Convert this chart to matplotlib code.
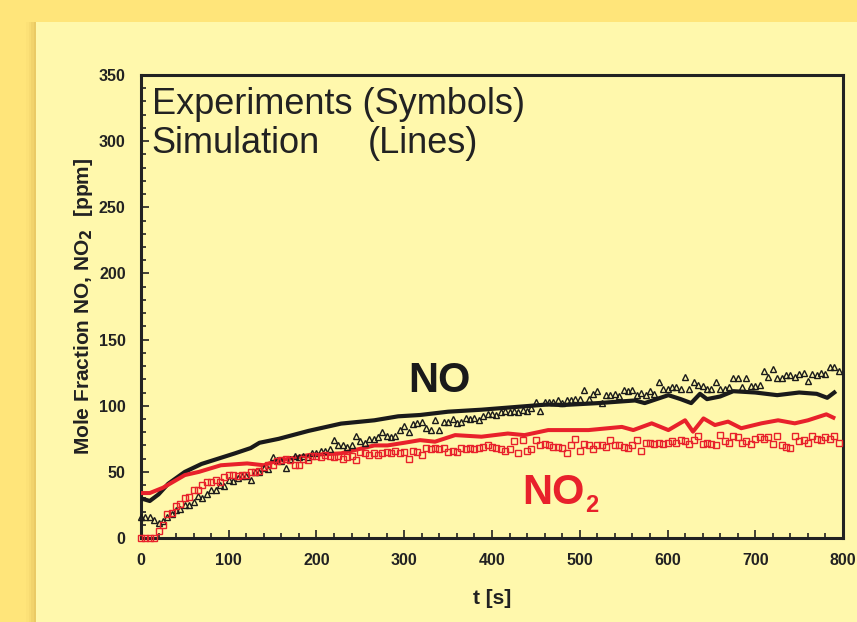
# NO / NO2 mole fraction vs time, experiments (symbols) and simulation (lines)

import numpy as np
import matplotlib.pyplot as plt
from matplotlib.patches import Rectangle
from matplotlib.ticker import MultipleLocator

plt.rcParams['font.family'] = ['Liberation Sans', 'DejaVu Sans']

# experiment time grid [s]
t_exp = np.arange(0, 800, 5)

# NO experiment (triangles) [ppm]
no_exp = [16, 16, 16, 14, 11.6, 13, 16, 18, 21, 22, 25, 25, 27, 32, 30, 33, 36, 36, 40, 39,
          44, 43, 45, 47, 47, 44, 50, 50, 53, 52, 61, 59, 58, 53, 60, 62, 61, 62, 61, 64,
          64, 66, 66, 67, 74, 70, 70, 69, 70, 77, 73, 72, 75, 75, 76, 80, 77, 76, 77, 82,
          85, 80, 86, 87, 88, 83, 82, 89, 82, 88, 88, 90, 87, 88, 91, 90, 91, 89, 92, 94,
          94, 93, 95, 96, 95, 96, 95, 97, 96, 98, 103, 96, 103, 103, 103, 104, 102, 104, 104, 105,
          105, 112, 105, 109, 111, 102, 108, 108, 109, 107, 112, 111, 112, 108, 110, 108, 111, 109, 118, 113,
          113, 114, 114, 113, 122, 113, 118, 116, 115, 113, 113, 118, 113, 113, 114, 121, 121, 114, 121, 115,
          115, 116, 126, 122, 128, 121, 121, 123, 123, 122, 124, 125, 119, 124, 123, 125, 124, 129, 129, 126]

# NO2 experiment (squares) [ppm]
no2_exp = [0, 0, 0, 0, 5, 10, 18, 19, 24, 26, 30, 31, 36, 36, 40, 42, 42, 44, 42, 46,
           48, 48, 47, 48, 48, 50, 50, 51, 54, 55, 55, 58, 59, 60, 59, 55, 55, 60, 59, 62,
           62, 61, 63, 62, 61, 62, 60, 61, 62, 59, 65, 64, 63, 64, 63, 64, 65, 64, 66, 64,
           65, 60, 66, 65, 63, 68, 67, 68, 67, 68, 65, 66, 65, 68, 67, 68, 67, 68, 69, 70,
           69, 68, 67, 66, 67, 73, 64, 74, 66, 67, 74, 70, 71, 70, 69, 69, 68, 64, 70, 75,
           66, 71, 70, 67, 70, 70, 69, 74, 70, 70, 69, 68, 70, 74, 66, 72, 72, 71, 72, 71,
           72, 73, 72, 74, 73, 71, 74, 77, 71, 72, 71, 70, 78, 73, 72, 77, 76, 72, 73, 71,
           75, 76, 75, 76, 71, 77, 70, 69, 68, 77, 73, 74, 72, 77, 75, 74, 76, 75, 77, 72]

# NO simulation (black line)
t_no_sim = [0, 10, 20, 31, 50, 69, 88, 107, 125, 135, 157, 191, 228, 251, 266, 293, 318, 350, 388,
            426, 464, 480, 521, 563, 574, 601, 615, 627, 637, 645, 660, 675, 700, 725, 750, 770, 782, 790]
no_sim = [30, 28, 33, 41, 50, 56, 60, 64, 68, 72, 75, 81, 86.5, 88, 89, 92, 93, 95.5, 97,
          99, 101, 100.5, 102, 104, 102, 108, 105, 102, 109, 105, 107, 111, 110, 108, 110, 109, 106, 110]

# NO2 simulation (red line)
t_no2_sim = [0, 10, 25, 50, 66, 91, 121, 140, 153, 191, 228, 266, 281, 300, 318, 335, 358, 388, 418,
             437, 464, 510, 548, 561, 582, 601, 620, 629, 641, 654, 669, 684, 707, 726, 745, 760, 781, 789]
no2_sim = [34, 34, 38, 47.6, 50, 55, 56.4, 55, 58, 62.7, 64, 70, 70, 72, 74, 72.8, 77.8, 76.6, 79,
           77.8, 81.6, 81.6, 84, 81.6, 86.7, 81.6, 89, 80.4, 90.4, 85.4, 88, 83, 86.7, 89, 86.7, 89, 93.5, 91]

red = '#E8212B'
panel = '#FFF8AC'
ink = '#222222'

fig = plt.figure(figsize=(8.57, 6.22), dpi=100)
fig.patch.set_facecolor('#FFE57A')

# shadow and light panel behind the chart
for i, a in enumerate([0.05, 0.08, 0.12, 0.16]):
    fig.patches.append(Rectangle((26 / 857 + i * 2.5 / 857, 0), 1, 600 / 622,
                                 transform=fig.transFigure, color='#C8A040', alpha=a, lw=0,
                                 zorder=-3))
fig.patches.append(Rectangle((36 / 857, 0), 1, 600 / 622, transform=fig.transFigure,
                             color=panel, lw=0, zorder=-2))

ax = fig.add_axes([0.1645, 0.135, 0.8192, 0.7444])
ax.set_facecolor(panel)

ax.plot(t_no_sim, no_sim, color='#1a1a1a', linewidth=3.0, zorder=3)
ax.plot(t_no2_sim, no2_sim, color=red, linewidth=2.9, zorder=3)
ax.plot(t_exp, no_exp, linestyle='none', marker='^', markersize=5, markerfacecolor='none',
        markeredgecolor='#1a1a1a', markeredgewidth=1.0, clip_on=False, zorder=4)
ax.plot(t_exp, no2_exp, linestyle='none', marker='s', markersize=4.5, markerfacecolor='none',
        markeredgecolor=red, markeredgewidth=1.0, clip_on=False, zorder=4)

ax.set_xlim(0, 800)
ax.set_ylim(0, 350)
ax.xaxis.set_major_locator(MultipleLocator(100))
ax.xaxis.set_minor_locator(MultipleLocator(20))
ax.yaxis.set_major_locator(MultipleLocator(50))
ax.yaxis.set_minor_locator(MultipleLocator(10))
ax.tick_params(which='both', direction='in', color=ink, width=1.2)
ax.tick_params(which='major', length=6, labelsize=11.5, pad=11)
ax.tick_params(which='minor', length=3.5)
for lab in ax.get_xticklabels() + ax.get_yticklabels():
    lab.set_fontweight('bold')
    lab.set_color(ink)
for s in ax.spines.values():
    s.set_linewidth(2.2)
    s.set_color(ink)

ax.set_xlabel('t [s]', fontsize=15, fontweight='bold', color=ink, labelpad=15)
ax.set_ylabel('Mole Fraction NO, NO$_\\mathbf{2}$  [ppm]', fontsize=15, fontweight='bold',
              color=ink, labelpad=3)

ax.text(12, 328, 'Experiments (Symbols)', fontsize=26, color=ink, va='center')
ax.text(12, 298, 'Simulation', fontsize=26, color=ink, va='center')
ax.text(258, 298, '(Lines)', fontsize=26, color=ink, va='center')

ax.text(340, 119, 'NO', fontsize=30, fontweight='bold', color='#1a1a1a', ha='center', va='center')
ax.text(434, 26, 'NO', fontsize=30, fontweight='bold', color=red, ha='left', va='baseline')
ax.text(506, 20, '2', fontsize=17, fontweight='bold', color=red, ha='left', va='baseline')

plt.savefig('out.png', dpi=100, facecolor=fig.get_facecolor())
